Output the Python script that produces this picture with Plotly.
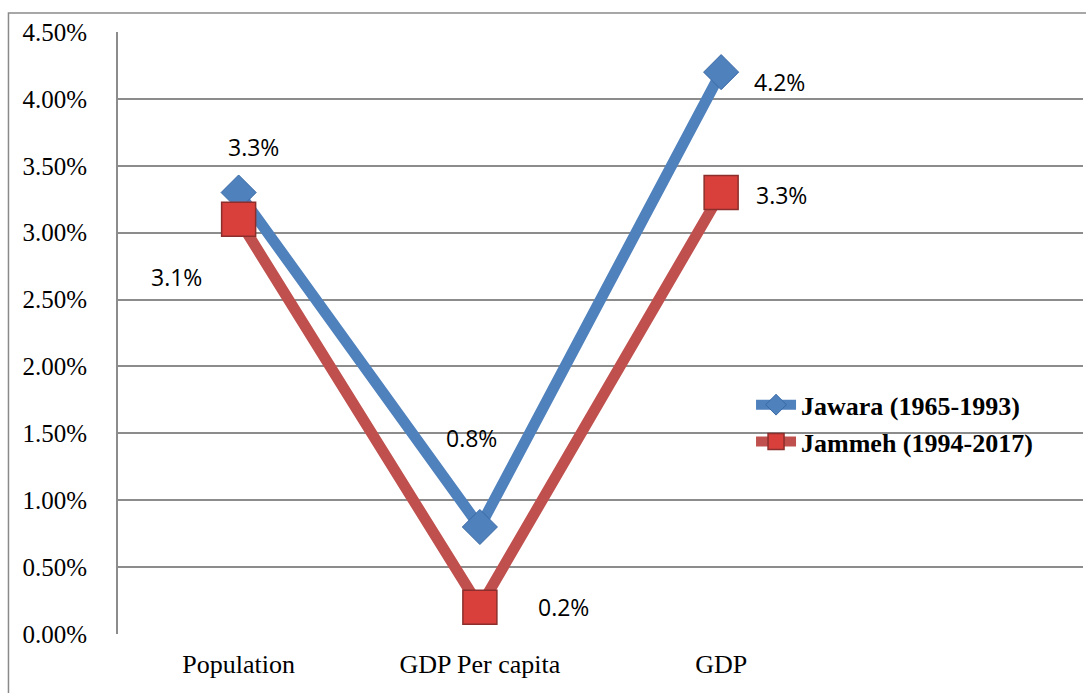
import plotly.graph_objects as go

# Average annual growth rates (%) under the two presidencies
categories = ["Population", "GDP Per capita", "GDP"]
jawara = [3.3, 0.8, 4.2]
jammeh = [3.1, 0.2, 3.3]
jawara_name = "Jawara (1965-1993)"
jammeh_name = "Jammeh (1994-2017)"
y_ticks = [0, 0.5, 1, 1.5, 2, 2.5, 3, 3.5, 4, 4.5]

BLUE = "#4f81bd"
RED = "#c0504d"
GRID = "#8c8c8c"
SERIF = "Liberation Serif, Times New Roman, serif"

x_pos = list(range(len(categories)))

fig = go.Figure()
fig.add_trace(go.Scatter(
    x=x_pos, y=jawara, name=jawara_name, mode="lines+markers",
    line=dict(color=BLUE, width=11),
    marker=dict(symbol="diamond", size=27, color=BLUE,
                line=dict(color="#3a6aa6", width=1)),
))
fig.add_trace(go.Scatter(
    x=x_pos, y=jammeh, name=jammeh_name, mode="lines+markers",
    line=dict(color=RED, width=11),
    marker=dict(symbol="square", size=34, color="#d9403c",
                line=dict(color="#8c2f2c", width=1.5)),
))

# Value labels, offset from each point (pixels)
label_offsets = {
    "jawara": [(15, 46), (-8, 89), (58, -10)],
    "jammeh": [(-62, -58), (84, 0), (60, -2)],
}
annotations = []
for series, key in ((jawara, "jawara"), (jammeh, "jammeh")):
    for i, v in enumerate(series):
        dx, dy = label_offsets[key][i]
        annotations.append(dict(
            x=x_pos[i], y=v, xref="x", yref="y", text=f"{v:.1f}%",
            showarrow=False, xshift=dx, yshift=dy,
            font=dict(family="Open Sans", size=23, color="#000000"),
        ))

fig.update_layout(
    width=1086, height=693,
    margin=dict(l=118, r=3, t=32, b=59),
    paper_bgcolor="white", plot_bgcolor="white",
    showlegend=True,
    legend=dict(
        x=0.656, y=0.35, xanchor="left", yanchor="middle",
        bgcolor="rgba(0,0,0,0)",
        font=dict(family=SERIF, size=26, color="#000000", weight="bold"),
        itemwidth=40, tracegroupgap=0,
    ),
    annotations=annotations,
    shapes=[dict(
        type="path", xref="paper", yref="paper",
        path="M -0.1135,-0.1 L -0.1135,1.0316 L 1.1,1.0316",
        line=dict(color="#8a8a8a", width=1.5),
    )],
    xaxis=dict(
        range=[-0.5, 3.5], tickmode="array", tickvals=x_pos, ticktext=categories,
        showgrid=False, zeroline=False, showline=False, ticks="",
        ticklabelstandoff=12,
        tickfont=dict(family=SERIF, size=26, color="#000000"),
    ),
    yaxis=dict(
        range=[0, 4.5], tickmode="array", tickvals=y_ticks,
        ticktext=[f"{t:.2f}%" for t in y_ticks],
        showgrid=True, gridcolor=GRID, gridwidth=2,
        zeroline=False, showline=True, linecolor=GRID, linewidth=2,
        ticks="", ticklabelstandoff=24,
        tickfont=dict(family=SERIF, size=25, color="#000000"),
    ),
)

fig.write_html("out.html")
